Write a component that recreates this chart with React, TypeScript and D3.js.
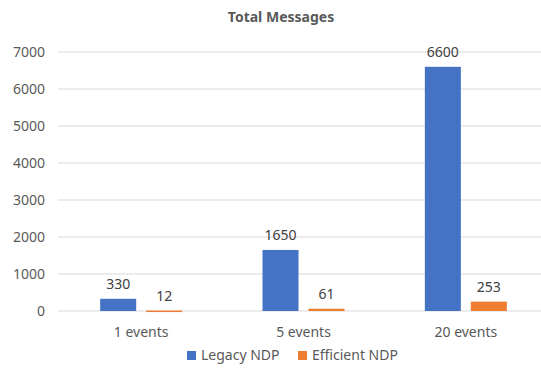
import React from 'react';
import * as d3 from 'd3';

const categories = ['1 events', '5 events', '20 events'];
const seriesNames = ['Legacy NDP', 'Efficient NDP'];
const legacyValues = [330, 1650, 6600];
const efficientValues = [12, 61, 253];
const yTicks = [0, 1000, 2000, 3000, 4000, 5000, 6000, 7000];

const colors = ['#4472c4', '#ed7d31'];
const font = '"Noto Sans", "Open Sans", sans-serif';

const App = () => {
  const width = 541;
  const height = 368;

  const y = d3.scaleLinear().domain([0, 7000]).range([311, 52]);

  const x0 = d3
    .scaleBand()
    .domain(categories)
    .range([60, 547])
    .paddingInner(0.495)
    .paddingOuter(0.2475);

  const x1 = d3
    .scaleBand()
    .domain(seriesNames)
    .range([0, x0.bandwidth()])
    .paddingInner(0.217);

  const rows = categories.map((c, i) => ({
    category: c,
    values: [legacyValues[i], efficientValues[i]],
  }));

  return (
    <svg width={width} height={height} style={{ position: 'absolute', left: 0, top: 0, background: '#fff' }}>
      <text x={281} y={22} textAnchor="middle" fontFamily={font} fontWeight="bold" fontSize={14} fill="#595959">
        Total Messages
      </text>

      {yTicks.map((t) => (
        <g key={t}>
          <line x1={58} x2={541} y1={y(t)} y2={y(t)} stroke="#d9d9d9" strokeWidth={1} />
          <text x={45} y={y(t)} dy="0.35em" textAnchor="end" fontFamily={font} fontSize={14} fill="#595959">
            {t}
          </text>
        </g>
      ))}

      {rows.map((r) => (
        <g key={r.category} transform={`translate(${x0(r.category)},0)`}>
          {r.values.map((v, j) => {
            const bx = x1(seriesNames[j]) as number;
            const top = y(v);
            return (
              <g key={j}>
                <rect x={bx} y={top} width={x1.bandwidth()} height={Math.max(y(0) - top, 1.5)} fill={colors[j]} />
                <text
                  x={bx + x1.bandwidth() / 2}
                  y={top - 10}
                  textAnchor="middle"
                  fontFamily={font}
                  fontSize={14}
                  fill="#404040"
                >
                  {v}
                </text>
              </g>
            );
          })}
          <text
            x={x0.bandwidth() / 2}
            y={337}
            textAnchor="middle"
            fontFamily={font}
            fontSize={14}
            fill="#595959"
          >
            {r.category}
          </text>
        </g>
      ))}

      {seriesNames.map((s, i) => {
        const lx = i === 0 ? 187 : 298;
        return (
          <g key={s}>
            <rect x={lx} y={351} width={9} height={9} fill={colors[i]} />
            <text x={lx + 14} y={360} fontFamily={font} fontSize={14} fill="#595959">
              {s}
            </text>
          </g>
        );
      })}
    </svg>
  );
};

export default App;
